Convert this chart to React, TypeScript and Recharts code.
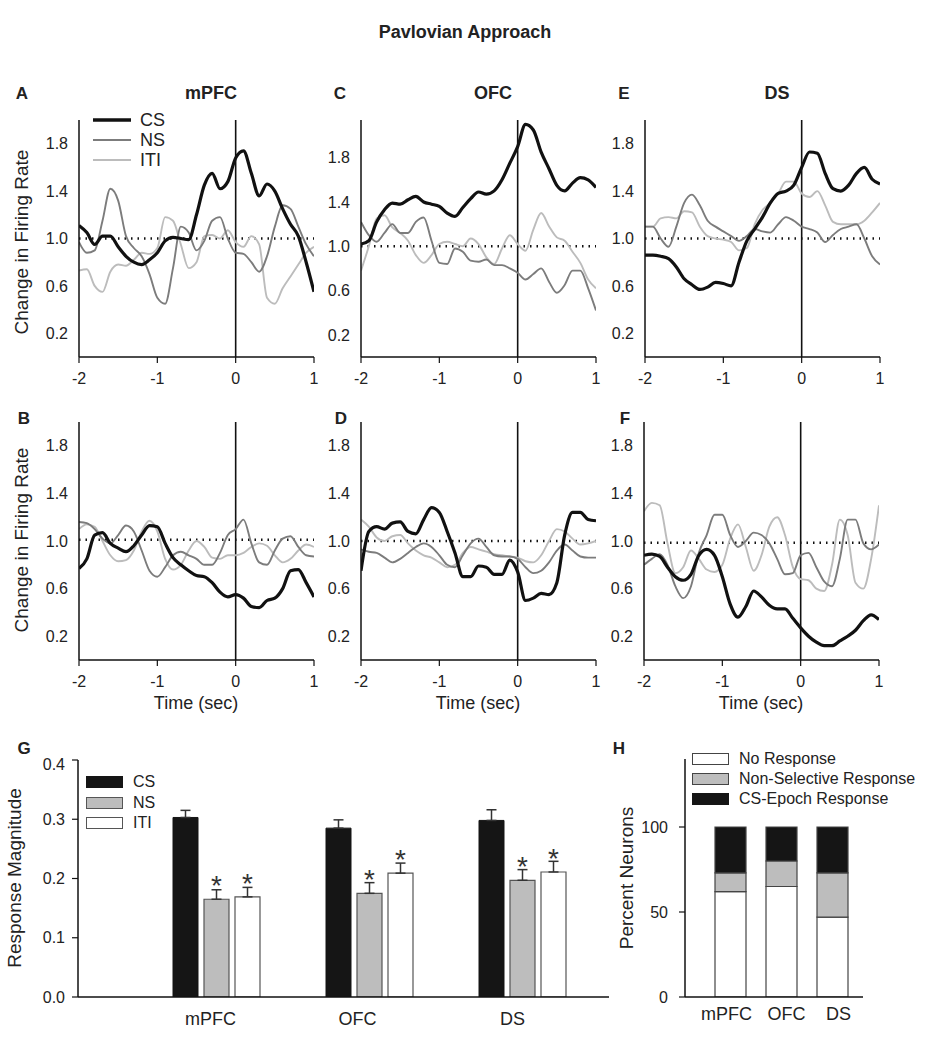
import React from 'react'
import {
  LineChart,
  Line,
  BarChart,
  Bar,
  XAxis,
  YAxis,
  ReferenceLine,
  Legend,
  ErrorBar,
  LabelList,
} from 'recharts'

const FONT = 'Arial, "Liberation Sans", Helvetica, sans-serif'
const INK = '#111'
const TEXT = '#222'

// time bins around CS onset (sec)
const TIME = [
  -2, -1.9, -1.8, -1.7, -1.6, -1.5, -1.4, -1.3, -1.2, -1.1, -1, -0.9, -0.8, -0.7, -0.6, -0.5,
  -0.4, -0.3, -0.2, -0.1, 0, 0.1, 0.2, 0.3, 0.4, 0.5, 0.6, 0.7, 0.8, 0.9, 1,
]
const TIME_TICKS = [-2, -1, 0, 1]
const RATE_TICKS = [0.2, 0.6, 1.0, 1.4, 1.8]

// A - mPFC, CS epoch
const A_CS = [1.11, 1.05, 0.95, 1.02, 1.02, 0.93, 0.85, 0.8, 0.78, 0.82, 0.88, 0.98, 1.01, 1.0, 0.99, 1.2, 1.45, 1.55, 1.42, 1.48, 1.68, 1.74, 1.55, 1.36, 1.46, 1.4, 1.25, 1.12, 1.02, 0.8, 0.55]
const A_NS = [0.97, 0.88, 0.9, 1.15, 1.42, 1.32, 1.02, 0.92, 0.85, 0.7, 0.5, 0.45, 0.75, 1.1, 1.05, 0.9, 0.98, 1.15, 1.18, 1.0, 0.88, 0.87, 0.8, 0.72, 0.85, 1.1, 1.28, 1.25, 1.1, 0.95, 0.85]
const A_ITI = [0.73, 0.74, 0.6, 0.55, 0.72, 0.78, 0.77, 0.82, 0.88, 0.87, 0.92, 1.18, 1.15, 0.95, 0.75, 0.8, 1.02, 1.03, 1.0, 1.07, 0.97, 0.93, 1.02, 0.95, 0.5, 0.45, 0.58, 0.68, 0.78, 0.88, 0.93]

// C - OFC, CS epoch
const C_CS = [1.02, 1.05, 1.22, 1.33, 1.39, 1.38, 1.42, 1.45, 1.4, 1.38, 1.36, 1.3, 1.27, 1.35, 1.43, 1.49, 1.47, 1.5, 1.6, 1.75, 1.9, 2.1, 2.05, 1.85, 1.7, 1.55, 1.5, 1.57, 1.62, 1.6, 1.53]
const C_NS = [1.22, 1.1, 1.04, 1.12, 1.2, 1.12, 1.12, 1.22, 1.26, 1.05, 0.85, 0.84, 0.98, 0.95, 0.87, 0.86, 0.88, 0.83, 0.83, 0.8, 0.76, 0.7, 0.75, 0.8, 0.68, 0.58, 0.65, 0.78, 0.78, 0.62, 0.42]
const C_ITI = [0.78, 1.0, 1.25, 1.28, 1.17, 1.12, 1.05, 0.92, 0.85, 0.92, 1.02, 1.04, 1.02, 1.0, 1.07, 1.02, 0.9, 0.84, 0.98, 1.1, 1.02, 0.96, 1.15, 1.3, 1.18, 1.08, 1.05, 0.95, 0.85, 0.7, 0.62]

// E - DS, CS epoch
const E_CS = [0.86, 0.86, 0.85, 0.83, 0.76, 0.66, 0.61, 0.57, 0.59, 0.63, 0.62, 0.6, 0.8, 0.98, 1.08, 1.18, 1.3, 1.38, 1.4, 1.45, 1.6, 1.73, 1.72, 1.55, 1.42, 1.4, 1.45, 1.55, 1.6, 1.5, 1.46]
const E_NS = [1.1, 1.1, 1.0, 0.93, 1.1, 1.3, 1.37, 1.28, 1.15, 1.1, 1.06, 1.02, 0.98, 1.02, 1.08, 1.06, 1.05, 1.12, 1.18, 1.15, 1.1, 1.08, 1.05, 0.97, 1.03, 1.08, 1.1, 1.12, 1.0, 0.85, 0.78]
const E_ITI = [1.1, 1.1, 1.17, 1.18, 1.17, 1.23, 1.22, 1.1, 1.02, 1.0, 0.99, 0.97, 0.9, 0.92, 1.12, 1.24, 1.3, 1.38, 1.48, 1.48, 1.38, 1.35, 1.4, 1.28, 1.14, 1.12, 1.12, 1.12, 1.15, 1.22, 1.3]

// B - mPFC, response epoch
const B_CS = [0.77, 0.85, 1.05, 1.07, 0.98, 0.94, 0.91, 0.96, 1.05, 1.13, 1.12, 0.98, 0.86, 0.8, 0.75, 0.71, 0.7, 0.65, 0.57, 0.53, 0.55, 0.52, 0.45, 0.44, 0.5, 0.52, 0.6, 0.75, 0.76, 0.65, 0.53]
const B_NS = [1.16, 1.15, 1.1, 1.02, 0.98, 1.05, 1.13, 1.08, 0.92, 0.75, 0.7, 0.78, 0.88, 0.91, 0.88, 0.85, 0.8, 0.8, 0.9, 1.05, 1.1, 1.18, 0.98, 0.82, 0.8, 0.92, 1.02, 1.04, 0.95, 0.88, 0.87]
const B_ITI = [1.1, 1.14, 1.12, 1.0, 0.88, 0.83, 0.84, 0.92, 1.08, 1.17, 1.08, 0.85, 0.76, 0.8, 0.92, 1.0, 0.95, 0.86, 0.85, 0.88, 0.88, 0.9, 0.95, 0.98, 0.96, 0.88, 0.82, 0.85, 0.92, 0.97, 0.95]

// D - OFC, response epoch
const D_CS = [0.75, 1.08, 1.12, 1.1, 1.15, 1.16, 1.08, 1.06, 1.18, 1.28, 1.24, 1.08, 0.9, 0.7, 0.7, 0.79, 0.78, 0.72, 0.72, 0.84, 0.74, 0.5, 0.52, 0.56, 0.55, 0.65, 1.05, 1.24, 1.24, 1.18, 1.17]
const D_NS = [0.93, 0.91, 0.9, 0.86, 0.82, 0.85, 0.9, 0.95, 0.98, 0.95, 0.88, 0.8, 0.78, 0.88, 0.98, 1.02, 0.95, 0.88, 0.87, 0.87, 0.85, 0.78, 0.73, 0.75, 0.82, 0.92, 0.97, 0.92, 0.87, 0.86, 0.86]
const D_ITI = [1.18, 1.12, 1.03, 1.0, 1.04, 1.05, 0.98, 0.92, 0.88, 0.86, 0.82, 0.78, 0.8, 0.9, 0.95, 0.93, 0.91, 0.89, 0.88, 0.87, 0.86, 0.83, 0.82, 0.88, 1.0, 1.1, 1.08, 1.02, 0.97, 0.98, 1.0]

// F - DS, response epoch
const F_CS = [0.88, 0.89, 0.87, 0.78, 0.7, 0.67, 0.72, 0.88, 0.93, 0.88, 0.7, 0.47, 0.36, 0.45, 0.58, 0.53, 0.46, 0.43, 0.43, 0.35, 0.27, 0.2, 0.15, 0.12, 0.12, 0.16, 0.2, 0.25, 0.33, 0.38, 0.34]
const F_NS = [0.8, 0.85, 0.89, 0.8, 0.62, 0.52, 0.62, 0.9, 1.05, 1.22, 1.22, 1.05, 0.95, 1.0, 1.07, 1.05, 0.98, 0.85, 0.72, 0.73, 0.88, 0.9, 0.78, 0.66, 0.62, 0.85, 1.18, 1.18, 0.98, 0.93, 0.97]
const F_ITI = [1.25, 1.32, 1.3, 0.98, 0.73, 0.78, 0.92, 0.85, 0.76, 0.74, 0.8, 1.02, 1.14, 0.95, 0.75, 0.88, 1.12, 1.2, 1.05, 0.78, 0.68, 0.67, 0.6, 0.58, 0.8, 1.18, 1.05, 0.65, 0.6, 0.85, 1.3]

// G - response magnitude
const REGIONS = ['mPFC', 'OFC', 'DS']
const MAG_CS = [0.303, 0.285, 0.298]
const MAG_NS = [0.165, 0.175, 0.197]
const MAG_ITI = [0.169, 0.209, 0.211]
const SEM_CS = [0.012, 0.014, 0.018]
const SEM_NS = [0.016, 0.018, 0.018]
const SEM_ITI = [0.016, 0.017, 0.018]
const SIG_NS = ['*', '*', '*']
const SIG_ITI = ['*', '*', '*']
const MAG_TICKS = [0, 0.1, 0.2, 0.3, 0.4]

// H - percent of neurons
const PCT_NONE = [62, 65, 47]
const PCT_NONSEL = [11, 15, 26]
const PCT_EPOCH = [27, 20, 27]
const PCT_TICKS = [0, 50, 100]

const TRACE_SERIES = [
  { key: 'cs', name: 'CS', color: INK, width: 3.4 },
  { key: 'ns', name: 'NS', color: '#7c7c7c', width: 2 },
  { key: 'iti', name: 'ITI', color: '#bcbcbc', width: 2 },
]

const PANELS = [
  { id: 'A', x: 79, y: 120, h: 237, yMax: 2, base: 1, cs: A_CS, ns: A_NS, iti: A_ITI, legend: true },
  { id: 'C', x: 361, y: 120, h: 237, yMax: 2.14, base: 1, cs: C_CS, ns: C_NS, iti: C_ITI },
  { id: 'E', x: 645, y: 120, h: 237, yMax: 2, base: 1, cs: E_CS, ns: E_NS, iti: E_ITI },
  { id: 'B', x: 79, y: 422, h: 238, yMax: 2, base: 1.01, cs: B_CS, ns: B_NS, iti: B_ITI },
  { id: 'D', x: 361, y: 422, h: 238, yMax: 2, base: 1, cs: D_CS, ns: D_NS, iti: D_ITI },
  { id: 'F', x: 644, y: 422, h: 238, yMax: 2, base: 0.985, cs: F_CS, ns: F_NS, iti: F_ITI },
]

const tickFont = { fontSize: 16, fill: TEXT, fontFamily: FONT }
const axisStroke = { stroke: INK, strokeWidth: 1.5 }

function TraceLegend() {
  return (
    <div style={{ fontFamily: FONT, fontSize: 18, color: TEXT, whiteSpace: 'nowrap' }}>
      {TRACE_SERIES.map((s) => (
        <div key={s.key} style={{ display: 'flex', alignItems: 'center', height: 20 }}>
          <svg width={38} height={6}>
            <line x1={0} y1={3} x2={38} y2={3} stroke={s.color} strokeWidth={s.width} />
          </svg>
          <span style={{ marginLeft: 9, lineHeight: '20px' }}>{s.name}</span>
        </div>
      ))}
    </div>
  )
}

function TracePanel({ p }) {
  const data = TIME.map((t, i) => ({ t, cs: p.cs[i], ns: p.ns[i], iti: p.iti[i] }))
  const lines = [...TRACE_SERIES].reverse()
  return (
    <div style={{ position: 'absolute', left: p.x - 45, top: p.y - 5 }}>
      <LineChart
        width={292}
        height={p.h + 45}
        data={data}
        margin={{ top: 5, right: 12, bottom: 0, left: 0 }}
      >
        <XAxis
          type="number"
          dataKey="t"
          domain={[-2, 1]}
          ticks={TIME_TICKS}
          allowDataOverflow
          height={40}
          tickSize={6}
          tickMargin={10}
          tick={tickFont}
          axisLine={axisStroke}
          tickLine={{ stroke: INK, strokeWidth: 1.2 }}
        />
        <YAxis
          type="number"
          domain={[0, p.yMax]}
          ticks={RATE_TICKS}
          allowDataOverflow
          tickFormatter={(v) => v.toFixed(1)}
          width={45}
          tickLine={false}
          tickSize={0}
          tickMargin={11}
          tick={tickFont}
          axisLine={axisStroke}
        />
        {p.legend && (
          <Legend
            layout="horizontal"
            verticalAlign="middle"
            align="center"
            wrapperStyle={{ left: 59, top: -5, width: 120 }}
            content={() => <TraceLegend />}
          />
        )}
        <ReferenceLine y={p.base} stroke={INK} strokeWidth={2.4} strokeDasharray="1.5 5" />
        <ReferenceLine x={0} stroke={INK} strokeWidth={1.6} />
        {lines.map((s) => (
          <Line
            key={s.key}
            type="monotone"
            dataKey={s.key}
            name={s.name}
            stroke={s.color}
            strokeWidth={s.key === 'cs' ? 3.2 : 1.9}
            dot={false}
            activeDot={false}
            isAnimationActive={false}
          />
        ))}
      </LineChart>
    </div>
  )
}

function RegionTick({ x, y, payload, index, shifts }) {
  return (
    <text
      x={x + shifts[index]}
      y={y}
      dy="0.71em"
      textAnchor="middle"
      fontSize={18}
      fill={TEXT}
      fontFamily={FONT}
    >
      {payload.value}
    </text>
  )
}

function BoxLegend({ items, top }) {
  return (
    <div style={{ fontFamily: FONT, fontSize: 16, color: TEXT, whiteSpace: 'nowrap' }}>
      {items.map((it) => (
        <div key={it.name} style={{ display: 'flex', alignItems: 'center', height: top }}>
          <div
            style={{
              width: 35,
              height: 10,
              background: it.fill,
              border: `1px solid ${it.stroke}`,
            }}
          />
          <span style={{ marginLeft: 10 }}>{it.name}</span>
        </div>
      ))}
    </div>
  )
}

const MAG_LEGEND = [
  { name: 'CS', fill: '#151515', stroke: '#151515' },
  { name: 'NS', fill: '#bdbdbd', stroke: '#555' },
  { name: 'ITI', fill: '#ffffff', stroke: '#555' },
]
const PCT_LEGEND = [
  { name: 'No Response', fill: '#ffffff', stroke: '#444' },
  { name: 'Non-Selective Response', fill: '#bdbdbd', stroke: '#444' },
  { name: 'CS-Epoch Response', fill: '#151515', stroke: '#151515' },
]

function MagnitudePanel() {
  const data = REGIONS.map((region, i) => ({
    region,
    cs: MAG_CS[i],
    ns: MAG_NS[i],
    iti: MAG_ITI[i],
    csErr: [0, SEM_CS[i]],
    nsErr: [0, SEM_NS[i]],
    itiErr: [0, SEM_ITI[i]],
    nsSig: SIG_NS[i],
    itiSig: SIG_ITI[i],
  }))
  const star = { position: 'top', offset: 4, fontSize: 28, fill: '#333', fontFamily: FONT }
  return (
    <div style={{ position: 'absolute', left: 18, top: 755 }}>
      <BarChart
        width={601}
        height={282}
        data={data}
        margin={{ top: 5, right: 10, bottom: 0, left: 0 }}
        barSize={25}
        barGap={6}
      >
        <XAxis
          dataKey="region"
          padding={{ left: 62, right: 10 }}
          height={40}
          interval={0}
          tickLine={false}
          tickSize={0}
          tickMargin={15}
          axisLine={axisStroke}
          tick={(props) => <RegionTick {...props} shifts={[-6, -12, -10]} />}
        />
        <YAxis
          type="number"
          domain={[0, 0.4]}
          ticks={MAG_TICKS}
          allowDataOverflow
          tickFormatter={(v) => v.toFixed(1)}
          width={60}
          tickSize={6}
          tickMargin={7}
          tick={tickFont}
          axisLine={axisStroke}
          tickLine={{ stroke: INK, strokeWidth: 1.2 }}
        />
        <Legend
          layout="horizontal"
          verticalAlign="middle"
          align="center"
          wrapperStyle={{ left: 68, top: 17, width: 120 }}
          content={() => <BoxLegend items={MAG_LEGEND} top={20.5} />}
        />
        <Bar dataKey="cs" name="CS" fill="#151515" stroke="#151515" isAnimationActive={false}>
          <ErrorBar dataKey="csErr" direction="y" width={5} stroke="#333" strokeWidth={1.5} isAnimationActive={false} />
        </Bar>
        <Bar dataKey="ns" name="NS" fill="#bdbdbd" stroke="#555" strokeWidth={1.2} isAnimationActive={false}>
          <ErrorBar dataKey="nsErr" direction="y" width={5} stroke="#333" strokeWidth={1.5} isAnimationActive={false} />
          <LabelList dataKey="nsSig" {...star} />
        </Bar>
        <Bar dataKey="iti" name="ITI" fill="#ffffff" stroke="#555" strokeWidth={1.2} isAnimationActive={false}>
          <ErrorBar dataKey="itiErr" direction="y" width={5} stroke="#333" strokeWidth={1.5} isAnimationActive={false} />
          <LabelList dataKey="itiSig" {...star} />
        </Bar>
      </BarChart>
    </div>
  )
}

function PercentPanel() {
  const data = REGIONS.map((region, i) => ({
    region,
    none: PCT_NONE[i],
    nonSel: PCT_NONSEL[i],
    epoch: PCT_EPOCH[i],
  }))
  return (
    <div style={{ position: 'absolute', left: 625, top: 754 }}>
      <BarChart
        width={248}
        height={283}
        data={data}
        margin={{ top: 5, right: 10, bottom: 0, left: 0 }}
        barSize={31}
      >
        <XAxis
          dataKey="region"
          padding={{ left: 20, right: 5 }}
          height={40}
          interval={0}
          tickLine={false}
          tickSize={0}
          tickMargin={10}
          axisLine={axisStroke}
          tick={(props) => <RegionTick {...props} shifts={[-4, 5, 6]} />}
        />
        <YAxis
          type="number"
          domain={[0, 140]}
          ticks={PCT_TICKS}
          allowDataOverflow
          width={60}
          tickSize={6}
          tickMargin={11}
          tick={tickFont}
          axisLine={axisStroke}
          tickLine={{ stroke: INK, strokeWidth: 1.2 }}
        />
        <Legend
          layout="horizontal"
          verticalAlign="middle"
          align="center"
          wrapperStyle={{ left: 67, top: -5, width: 250 }}
          content={() => <BoxLegend items={PCT_LEGEND} top={20} />}
        />
        <Bar dataKey="none" name="No Response" stackId="n" fill="#ffffff" stroke="#444" strokeWidth={1.2} isAnimationActive={false} />
        <Bar dataKey="nonSel" name="Non-Selective Response" stackId="n" fill="#bdbdbd" stroke="#444" strokeWidth={1.2} isAnimationActive={false} />
        <Bar dataKey="epoch" name="CS-Epoch Response" stackId="n" fill="#151515" stroke="#444" strokeWidth={1.2} isAnimationActive={false} />
      </BarChart>
    </div>
  )
}

function Label({ x, y, text, size = 18, bold = false, rotate = false }) {
  return (
    <div
      style={{
        position: 'absolute',
        left: x,
        top: y,
        transform: `translate(-50%, -50%)${rotate ? ' rotate(-90deg)' : ''}`,
        fontSize: size,
        fontWeight: bold ? 700 : 400,
        whiteSpace: 'nowrap',
        color: TEXT,
        lineHeight: 1,
      }}
    >
      {text}
    </div>
  )
}

export default function App() {
  return (
    <div
      style={{
        position: 'absolute',
        left: 0,
        top: 0,
        width: 930,
        height: 1050,
        background: '#fff',
        fontFamily: FONT,
        overflow: 'hidden',
      }}
    >
      <Label x={465} y={32} text="Pavlovian Approach" bold />
      <Label x={211} y={93} text="mPFC" bold />
      <Label x={493} y={93} text="OFC" bold />
      <Label x={777} y={93} text="DS" bold />

      <Label x={22} y={93} text="A" size={17} bold />
      <Label x={340} y={93} text="C" size={17} bold />
      <Label x={624} y={93} text="E" size={17} bold />
      <Label x={24} y={418} text="B" size={17} bold />
      <Label x={341} y={418} text="D" size={17} bold />
      <Label x={625} y={418} text="F" size={17} bold />
      <Label x={24} y={748} text="G" size={17} bold />
      <Label x={619} y={748} text="H" size={17} bold />

      <Label x={21} y={242} text="Change in Firing Rate" size={19} rotate />
      <Label x={21} y={540} text="Change in Firing Rate" size={19} rotate />
      <Label x={196} y={703} text="Time (sec)" />
      <Label x={478} y={703} text="Time (sec)" />
      <Label x={761} y={703} text="Time (sec)" />
      <Label x={14} y={878} text="Response Magnitude" size={19} rotate />
      <Label x={626} y={878} text="Percent Neurons" size={19} rotate />

      {PANELS.map((p) => (
        <TracePanel key={p.id} p={p} />
      ))}
      <MagnitudePanel />
      <PercentPanel />
    </div>
  )
}
